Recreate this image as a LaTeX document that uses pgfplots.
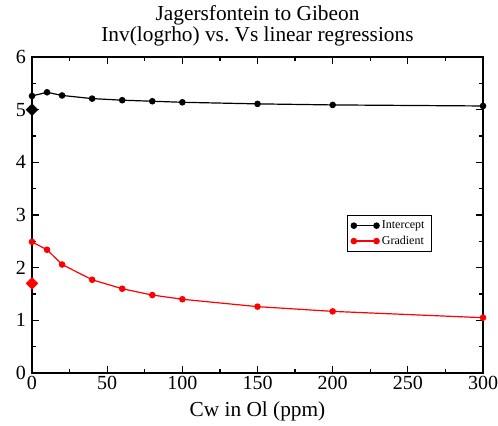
\documentclass[border=0pt]{standalone}
\usepackage{pgfplots}
\pgfplotsset{compat=1.18}
\usetikzlibrary{calc}
\usepackage{fontspec}
\setmainfont{Liberation Serif}
\begin{document}
\begin{tikzpicture}
\begin{axis}[
  scale only axis, width=338.25pt, height=237pt,
  /pgf/number format/assume math mode=true,
  xmin=0, xmax=300, ymin=0, ymax=6,
  xtick={0,50,...,300}, ytick={0,1,...,6},
  minor x tick num=1, minor y tick num=1,
  tick align=inside, tick pos=both,
  major tick length=5.25pt, minor tick length=3pt,
  every tick/.style={line width=0.9pt},
  title={Jagersfontein to Gibeon\\Inv(logrho) vs.\ Vs linear regressions},
  title style={align=center, font=\fontsize{16}{15.75}\selectfont, at={(0.5,1)}, anchor=south, yshift=-1pt},
  xlabel={Cw in Ol (ppm)},
  xlabel style={font=\fontsize{16}{16}\selectfont, at={(axis description cs:0.5,0)}, anchor=base, yshift=-33pt},
  ticklabel style={font=\fontsize{15}{15}\selectfont},
  xticklabel style={yshift=1.25pt},
  yticklabel style={xshift=-1pt},
  legend style={at={(0.698,0.5)}, anchor=north west, font=\fontsize{9}{10}\selectfont, draw=black, line width=0.6pt, row sep=0pt, inner xsep=3pt, inner ysep=2pt},
  legend cell align=left,
  legend image code/.code={\draw[#1] plot coordinates {(0pt,0pt) (17pt,0pt)};},
  axis line style={line width=1.1pt},
]
\addplot[black, line width=0.9pt, mark=*, mark size=2pt] coordinates {
(0,5.26) (10,5.33) (20,5.27) (40,5.21) (60,5.18) (80,5.16) (100,5.14) (150,5.11) (200,5.09) (300,5.07)};
\addlegendentry{Intercept}
\addplot[red, line width=0.9pt, mark=*, mark size=2pt] coordinates {
(0,2.49) (10,2.34) (20,2.06) (40,1.77) (60,1.60) (80,1.48) (100,1.40) (150,1.26) (200,1.17) (300,1.05)};
\addlegendentry{Gradient}
\addplot[black, only marks, mark=square*, mark options={rotate=45}, mark size=3.1pt, forget plot] coordinates {(0,5.0)};
\addplot[red, only marks, mark=square*, mark options={rotate=45}, mark size=3.1pt, forget plot] coordinates {(0,1.7)};
\end{axis}
\pgfresetboundingbox
\path ($(current axis.south west)+(-24pt,-39.75pt)$) rectangle ($(current axis.north east)+(11.25pt,42.75pt)$);
\end{tikzpicture}
\end{document}
